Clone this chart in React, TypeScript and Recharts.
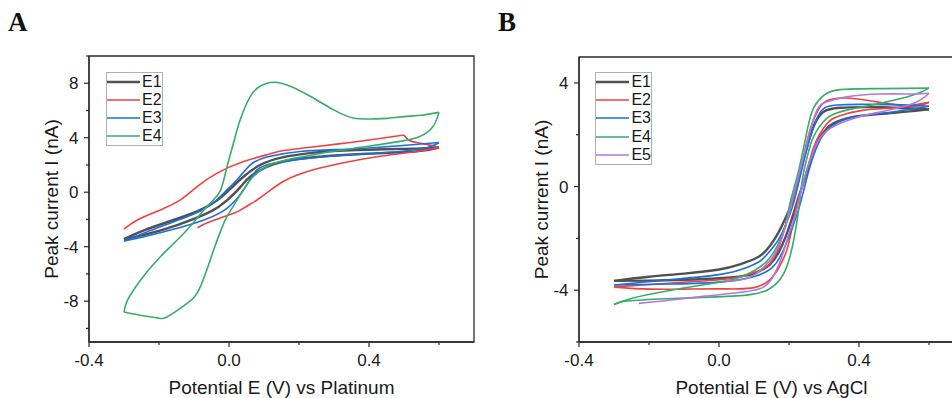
import React from "react";
import { LineChart, Line, XAxis, YAxis, ReferenceArea, Legend } from "recharts";

type Pt = [number, number];

const SANS = "'Liberation Sans', Arial, sans-serif";
const SERIF = "'Liberation Serif', 'Times New Roman', serif";
const INK = "#1a1a1a";
const AXIS = "#2b2b2b";

const names = ["E1", "E2", "E3", "E4", "E5"];
const colors = ["#515151", "#F14040", "#1A6FDF", "#37AD6B", "#B177DE"];
const widths = [2.4, 1.6, 1.6, 1.6, 1.6];

// shared potential axis (V)
const xDomain = [-0.4, 0.7];
const xMajor = [-0.4, 0, 0.4];
const xMinor = [-0.2, 0.2, 0.6];

// panel A: current axis (nA)
const aYDomain = [-11, 10];
const aYMajor = [-8, -4, 0, 4, 8];
const aYMinor = [-10, -6, -2, 2, 6, 10];

// panel B: current axis (nA)
const bYDomain = [-6, 5];
const bYMajor = [-4, 0, 4];
const bYMinor = [-6, -2, 2];

// ---- A: vs Platinum, [E (V), I (nA)] ----
const aE1Up: Pt[] = [[-0.3, -3.45], [-0.243, -2.8], [-0.148, -1.95], [-0.082, -1.3], [-0.034, -0.6], [0.004, 0.25], [0.042, 1.15], [0.089, 2.0], [0.156, 2.58], [0.232, 2.87], [0.298, 3.02], [0.441, 3.15], [0.536, 3.2], [0.6, 3.28]];
const aE1Down: Pt[] = [[0.6, 3.28], [0.536, 3.0], [0.393, 2.82], [0.251, 2.58], [0.156, 2.25], [0.108, 1.85], [0.061, 1.15], [0.03, 0.3], [-0.006, -0.6], [-0.053, -1.43], [-0.148, -2.41], [-0.243, -3.14], [-0.3, -3.45]];

const aE2Up: Pt[] = [[-0.3, -2.72], [-0.262, -2.04], [-0.196, -1.3], [-0.139, -0.57], [-0.091, 0.41], [-0.034, 1.4], [0.042, 2.25], [0.118, 2.82], [0.156, 3.06], [0.251, 3.36], [0.346, 3.65], [0.441, 3.98], [0.5, 4.2]];
const aE2Dip: Pt[] = [[0.5, 4.2], [0.512, 3.85], [0.536, 3.65], [0.583, 3.41], [0.6, 3.28]];
const aE2Down: Pt[] = [[0.6, 3.28], [0.536, 2.99], [0.441, 2.67], [0.346, 2.25], [0.251, 1.72], [0.2, 1.3], [0.156, 0.8], [0.108, -0.05], [0.08, -0.57], [0.04, -1.2], [0.013, -1.55], [-0.053, -2.16], [-0.09, -2.61]];

const aE3Up: Pt[] = [[-0.3, -3.58], [-0.196, -2.53], [-0.12, -1.8], [-0.053, -0.94], [-0.006, 0.17], [0.023, 0.91], [0.061, 2.01], [0.108, 2.58], [0.203, 2.99], [0.346, 3.17], [0.488, 3.41], [0.6, 3.65]];
const aE3Down: Pt[] = [[0.6, 3.65], [0.57, 3.3], [0.488, 2.99], [0.346, 2.75], [0.203, 2.43], [0.127, 2.13], [0.08, 1.64], [0.045, 0.3], [-0.006, -1.18], [-0.072, -2.04], [-0.148, -2.65], [-0.243, -3.27], [-0.3, -3.58]];

const aE4Fwd: Pt[] = [[-0.3, -8.8], [-0.25, -9.05], [-0.205, -9.23], [-0.177, -9.16], [-0.12, -8.17], [-0.082, -6.95], [-0.044, -4.25], [-0.02, -2.6], [-0.006, -1.8], [0.023, -0.57], [0.061, 0.9], [0.108, 1.89], [0.165, 2.38], [0.232, 2.7], [0.297, 3.0], [0.393, 3.35], [0.488, 3.73], [0.545, 4.09], [0.583, 4.83], [0.6, 5.86]];
const aE4Rev: Pt[] = [[0.6, 5.86], [0.55, 5.65], [0.507, 5.57], [0.45, 5.42], [0.412, 5.38], [0.355, 5.45], [0.298, 6.06], [0.232, 7.04], [0.175, 7.78], [0.127, 8.07], [0.089, 7.78], [0.061, 7.04], [0.032, 5.32], [0.013, 3.61], [-0.008, 1.64], [-0.027, 0.0], [-0.065, -1.1], [-0.12, -2.78], [-0.196, -4.74], [-0.253, -6.46], [-0.29, -7.93], [-0.3, -8.8]];

// ---- B: vs AgCl ----
const bE1Lo: Pt[] = [[-0.3, -3.64], [-0.2, -3.63], [-0.1, -3.6], [0.0, -3.54], [0.07, -3.45], [0.11, -3.3], [0.146, -3.0], [0.17, -2.55], [0.19, -1.95], [0.207, -1.3], [0.222, -0.64], [0.24, 0.1], [0.256, 0.77], [0.272, 1.4], [0.289, 1.92], [0.307, 2.22], [0.327, 2.44], [0.384, 2.69], [0.479, 2.82], [0.6, 2.98]];
const bE1Hi: Pt[] = [[0.6, 2.98], [0.46, 3.06], [0.346, 3.04], [0.298, 2.88], [0.27, 2.31], [0.241, 1.03], [0.222, 0.0], [0.205, -0.75], [0.18, -1.5], [0.16, -2.0], [0.137, -2.43], [0.108, -2.75], [0.06, -3.0], [0.0, -3.2], [-0.1, -3.36], [-0.2, -3.48], [-0.3, -3.64]];

const bE2Lo: Pt[] = [[-0.3, -3.88], [-0.2, -3.96], [-0.1, -3.96], [0.0, -3.95], [0.056, -3.95], [0.1, -3.9], [0.125, -3.78], [0.145, -3.6], [0.165, -3.27], [0.18, -2.9], [0.194, -2.44], [0.207, -1.7], [0.222, -0.75], [0.251, 0.64], [0.27, 1.5], [0.289, 2.05], [0.31, 2.45], [0.337, 2.69], [0.413, 2.95], [0.508, 3.05], [0.6, 3.25]];
const bE2Hi: Pt[] = [[0.6, 3.25], [0.555, 3.1], [0.479, 3.21], [0.422, 3.33], [0.365, 3.42], [0.318, 3.36], [0.289, 3.08], [0.26, 2.18], [0.237, 0.9], [0.208, -0.64], [0.19, -1.5], [0.172, -2.3], [0.151, -2.88], [0.123, -3.2], [0.075, -3.42], [0.009, -3.59], [-0.134, -3.72], [-0.3, -3.88]];

const bE3Lo: Pt[] = [[-0.3, -3.8], [-0.134, -3.76], [0.009, -3.68], [0.104, -3.46], [0.151, -3.14], [0.175, -2.7], [0.195, -2.1], [0.212, -1.5], [0.227, -0.9], [0.243, -0.1], [0.26, 0.77], [0.289, 1.8], [0.327, 2.37], [0.384, 2.69], [0.479, 2.85], [0.6, 3.1]];
const bE3Hi: Pt[] = [[0.6, 3.1], [0.5, 3.16], [0.4, 3.17], [0.337, 3.15], [0.298, 3.0], [0.27, 2.31], [0.241, 0.9], [0.213, -0.64], [0.19, -1.5], [0.17, -2.05], [0.148, -2.45], [0.12, -2.85], [0.08, -3.12], [0.009, -3.38], [-0.134, -3.59], [-0.3, -3.8]];

const bE4Lo: Pt[] = [[-0.3, -4.55], [-0.262, -4.42], [-0.148, -4.33], [-0.006, -4.26], [0.089, -4.17], [0.137, -4.0], [0.175, -3.58], [0.203, -2.69], [0.222, -1.4], [0.232, -0.4], [0.241, 0.5], [0.255, 1.3], [0.27, 1.92], [0.308, 2.63], [0.365, 2.95], [0.46, 3.21], [0.555, 3.53], [0.6, 3.8]];
const bE4Hi: Pt[] = [[0.6, 3.8], [0.461, 3.78], [0.346, 3.74], [0.299, 3.52], [0.271, 3.06], [0.252, 2.18], [0.228, 0.64], [0.203, -0.64], [0.189, -1.54], [0.166, -2.31], [0.137, -2.88], [0.099, -3.26], [0.042, -3.58], [-0.053, -3.81], [-0.148, -4.03], [-0.243, -4.29], [-0.3, -4.55]];

const bE5Lo: Pt[] = [[-0.229, -4.51], [-0.15, -4.4], [-0.039, -4.23], [0.075, -4.06], [0.123, -3.91], [0.151, -3.55], [0.18, -2.69], [0.199, -1.85], [0.214, -1.3], [0.227, -0.6], [0.24, 0.1], [0.251, 0.64], [0.28, 1.67], [0.318, 2.25], [0.384, 2.63], [0.46, 2.88], [0.555, 3.21], [0.6, 3.6]];
const bE5Hi: Pt[] = [[0.6, 3.6], [0.555, 3.57], [0.46, 3.57], [0.365, 3.46], [0.308, 3.27], [0.28, 2.95], [0.256, 1.92], [0.232, 0.64], [0.208, -0.64], [0.19, -1.55], [0.17, -2.3], [0.15, -2.8], [0.137, -2.98], [0.108, -3.35], [0.061, -3.6], [0.018, -3.66]];

type Series = { name: string; color: string; width: number; branches: Pt[][] };

const mk = (i: number, branches: Pt[][]): Series => ({ name: names[i], color: colors[i], width: widths[i], branches });

const seriesA: Series[] = [
  mk(0, [aE1Up, aE1Down]),
  mk(1, [aE2Up, aE2Dip, aE2Down]),
  mk(2, [aE3Up, aE3Down]),
  mk(3, [aE4Fwd, aE4Rev]),
];

const seriesB: Series[] = [
  mk(0, [bE1Lo, bE1Hi]),
  mk(1, [bE2Lo, bE2Hi]),
  mk(2, [bE3Lo, bE3Hi]),
  mk(3, [bE4Lo, bE4Hi]),
  mk(4, [bE5Lo, bE5Hi]),
];

const isIn = (list: number[], v: number) => list.some((m) => Math.abs(m - v) < 1e-6);

const makeXTick = (major: number[]) => (p: any) => {
  const { x, y, payload } = p;
  const big = isIn(major, payload.value);
  return (
    <g>
      <line x1={x} x2={x} y1={y} y2={y + (big ? 5 : 3)} stroke={AXIS} strokeWidth={1.2} />
      {big && (
        <text x={x} y={y + 24} textAnchor="middle" fontSize={17} fontFamily={SANS} fill={INK}>
          {payload.value.toFixed(1)}
        </text>
      )}
    </g>
  );
};

const makeYTick = (major: number[]) => (p: any) => {
  const { x, y, payload } = p;
  const big = isIn(major, payload.value);
  return (
    <g>
      <line x1={x} x2={x - (big ? 5 : 3)} y1={y} y2={y} stroke={AXIS} strokeWidth={1.2} />
      {big && (
        <text x={x - 10.5} y={y} dy="0.36em" textAnchor="end" fontSize={17} fontFamily={SANS} fill={INK}>
          {String(payload.value)}
        </text>
      )}
    </g>
  );
};

function LegendBox({ items }: { items: Series[] }) {
  return (
    <div style={{ border: "1px solid #b0b0b0", background: "#fff", width: 55 }}>
      {items.map((s) => (
        <div key={s.name} style={{ display: "flex", alignItems: "center", height: 18.2 }}>
          <svg width={35} height={18} style={{ display: "block" }}>
            <line x1={0} x2={34} y1={9} y2={9} stroke={s.color} strokeWidth={s.width} />
          </svg>
          <span style={{ fontFamily: SANS, fontSize: 16, color: INK, marginLeft: 2, lineHeight: "18px" }}>{s.name}</span>
        </div>
      ))}
    </div>
  );
}

type PanelProps = {
  left: number;
  width: number;
  top: number;
  yWidth: number;
  yDomain: number[];
  yMajor: number[];
  yMinor: number[];
  series: Series[];
  xTitle: string;
  legendAt: [number, number];
};

function CvPanel({ left, width, top, yWidth, yDomain, yMajor, yMinor, series, xTitle, legendAt }: PanelProps) {
  const xTicks = [...xMajor, ...xMinor].sort((a, b) => a - b);
  const yTicks = [...yMajor, ...yMinor].sort((a, b) => a - b);
  return (
    <div style={{ position: "absolute", left, top: 0 }}>
      <LineChart width={width} height={398} margin={{ top, right: 6, bottom: 0, left: 0 }}>
        <XAxis
          type="number"
          dataKey="x"
          domain={xDomain}
          allowDataOverflow
          ticks={xTicks}
          interval={0}
          tickSize={0}
          tickMargin={0}
          tickLine={false}
          tick={makeXTick(xMajor)}
          axisLine={{ stroke: AXIS, strokeWidth: 1.3 }}
          height={56}
          label={{
            content: (p: any) => {
              const vb = p.viewBox;
              return (
                <text x={vb.x + vb.width / 2} y={vb.y + 52} textAnchor="middle" fontSize={19} fontFamily={SANS} fill={INK}>
                  {xTitle}
                </text>
              );
            },
          }}
        />
        <YAxis
          type="number"
          domain={yDomain}
          allowDataOverflow
          ticks={yTicks}
          interval={0}
          tickSize={0}
          tickMargin={0}
          tickLine={false}
          tick={makeYTick(yMajor)}
          axisLine={{ stroke: AXIS, strokeWidth: 1.3 }}
          width={yWidth}
          label={{
            content: (p: any) => {
              const vb = p.viewBox;
              const cx = vb.x + vb.width - 31;
              const cy = vb.y + vb.height / 2;
              return (
                <text x={cx} y={cy} transform={`rotate(-90 ${cx} ${cy})`} textAnchor="middle" fontSize={19} fontFamily={SANS} fill={INK}>
                  Peak current I (nA)
                </text>
              );
            },
          }}
        />
        <ReferenceArea
          x1={xDomain[0]}
          x2={xDomain[1]}
          y1={yDomain[0]}
          y2={yDomain[1]}
          fill="none"
          fillOpacity={0}
          stroke={AXIS}
          strokeWidth={1.3}
          ifOverflow="visible"
        />
        {series.flatMap((s) =>
          s.branches.map((b, j) => (
            <Line
              key={`${s.name}-${j}`}
              data={b.map(([x, y]) => ({ x, y }))}
              dataKey="y"
              type="natural"
              stroke={s.color}
              strokeWidth={s.width}
              dot={false}
              activeDot={false}
              legendType="none"
              isAnimationActive={false}
            />
          ))
        )}
        <Legend
          layout="horizontal"
          verticalAlign="middle"
          align="center"
          wrapperStyle={{ left: legendAt[0], top: legendAt[1], width: "auto", height: "auto" }}
          content={() => <LegendBox items={series} />}
        />
      </LineChart>
    </div>
  );
}

export default function App() {
  return (
    <div style={{ position: "absolute", left: 0, top: 0, width: 952, height: 398, overflow: "hidden", background: "#fff" }}>
      <CvPanel
        left={0}
        width={480}
        top={56}
        yWidth={89}
        yDomain={aYDomain}
        yMajor={aYMajor}
        yMinor={aYMinor}
        series={seriesA}
        xTitle="Potential E (V) vs Platinum"
        legendAt={[105.7, 71.7]}
      />
      <CvPanel
        left={480}
        width={490}
        top={57}
        yWidth={99}
        yDomain={bYDomain}
        yMajor={bYMajor}
        yMinor={bYMinor}
        series={seriesB}
        xTitle="Potential E (V) vs AgCl"
        legendAt={[115, 72]}
      />
      <svg width={952} height={398} style={{ position: "absolute", left: 0, top: 0, pointerEvents: "none" }}>
        <text x={8} y={31} fontFamily={SERIF} fontWeight="bold" fontSize={27} fill="#111">A</text>
        <text x={498} y={31} fontFamily={SERIF} fontWeight="bold" fontSize={27} fill="#111">B</text>
      </svg>
    </div>
  );
}
